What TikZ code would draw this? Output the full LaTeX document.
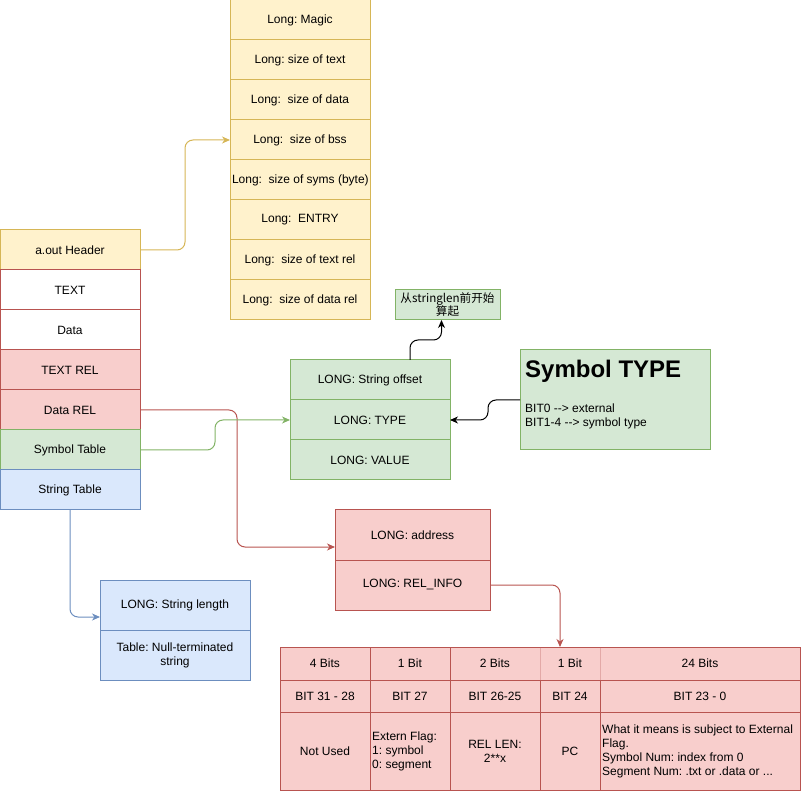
\documentclass[tikz,border=0pt]{standalone}
\usepackage{fontspec}
\setmainfont{Liberation Sans}
\newfontfamily\cjk{Noto Sans CJK SC}
\usetikzlibrary{arrows.meta}
\frenchspacing
\definecolor{yfill}{HTML}{FFF2CC}\definecolor{ydraw}{HTML}{D6B656}
\definecolor{rfill}{HTML}{F8CECC}\definecolor{rdraw}{HTML}{B85450}
\definecolor{gfill}{HTML}{D5E8D4}\definecolor{gdraw}{HTML}{82B366}
\definecolor{bfill}{HTML}{DAE8FC}\definecolor{bdraw}{HTML}{6C8EBF}
\definecolor{rlight}{HTML}{E3A9A7}
\tikzset{
  box/.style={draw, line width=1pt, anchor=north west, inner sep=2pt, outer sep=0pt,
    font=\fontsize{12}{14}\selectfont, align=center},
  ybox/.style={box, fill=yfill, draw=ydraw, minimum width=140pt, minimum height=40pt},
  rbox/.style={box, fill=rfill, draw=rdraw},
  wbox/.style={box, fill=white, draw=rdraw, minimum width=140pt, minimum height=40pt},
  gbox/.style={box, fill=gfill, draw=gdraw},
  bbox/.style={box, fill=bfill, draw=bdraw},
  conn/.style={line width=1pt, rounded corners=8pt, -{Stealth[length=8pt,width=7pt,inset=2.5pt]}},
}
\begin{document}
\begin{tikzpicture}[x=1pt,y=-1pt]
\useasboundingbox (0,0) rectangle (801,791);
% header fields
\node[ybox] (h1) at (230,0) {Long: Magic};
\node[ybox] (h2) at (230,40) {Long: size of text};
\node[ybox] (h3) at (230,80) {Long:\ \ size of data};
\node[ybox] (h4) at (230,120) {Long:\ \ size of bss};
\node[ybox] (h5) at (230,160) {Long:\ \ size of syms (byte)};
\node[ybox] (h6) at (230,200) {Long:\ \ ENTRY};
\node[ybox] (h7) at (230,240) {Long:\ \ size of text rel};
\node[ybox] (h8) at (230,280) {Long:\ \ size of data rel};
% left column
\node[ybox] (hdr) at (0,230) {a.out Header};
\node[wbox] (txt) at (0,270) {TEXT};
\node[wbox] (dat) at (0,310) {Data};
\node[rbox, minimum width=140pt, minimum height=40pt] (trel) at (0,350) {TEXT REL};
\node[rbox, minimum width=140pt, minimum height=40pt] (drel) at (0,390) {Data REL};
\node[gbox, minimum width=140pt, minimum height=40pt] (sym) at (0,430) {Symbol Table};
\node[bbox, minimum width=140pt, minimum height=40pt] (str) at (0,470) {String Table};
% chinese note
\node[gbox, minimum width=105pt, minimum height=30pt, font=\cjk\fontsize{11.6}{13}\selectfont, inner sep=0pt] (cn) at (395,290) {从stringlen前开始\\算起};
% symbol entry
\node[gbox, minimum width=160pt, minimum height=40pt] (s1) at (290,360) {LONG: String offset};
\node[gbox, minimum width=160pt, minimum height=40pt] (s2) at (290,400) {LONG: TYPE};
\node[gbox, minimum width=160pt, minimum height=40pt] (s3) at (290,440) {LONG: VALUE};
% symbol type note
\node[gbox, minimum width=190pt, minimum height=100pt] (st) at (520,350) {};
\node[anchor=north west, inner sep=0pt, font=\bfseries\fontsize{24}{28}\selectfont] (stt) at (525,360) {Symbol TYPE};
\node[anchor=north west, inner sep=0pt, align=left, font=\fontsize{12}{14}\selectfont] (stb) at (525,404) {BIT0 {-}{-}> external\\BIT1-4 {-}{-}> symbol type};
% relocation entry
\node[rbox, minimum width=155pt, minimum height=50pt] (r1) at (335,510) {LONG: address};
\node[rbox, minimum width=155pt, minimum height=50pt] (r2) at (335,560) {LONG: REL\_INFO};
% string entry
\node[bbox, minimum width=150pt, minimum height=50pt] (l1) at (100,580) {LONG: String length};
\node[bbox, minimum width=150pt, minimum height=50pt] (l2) at (100,630) {Table: Null-terminated\\string};
% bit table
\node[rbox, minimum width=90pt, minimum height=33pt] (t11) at (280,647) {4 Bits};
\node[rbox, minimum width=80pt, minimum height=33pt] (t12) at (370,647) {1 Bit};
\node[rbox, minimum width=90pt, minimum height=33pt] (t13) at (450,647) {2 Bits};
\node[rbox, minimum width=60pt, minimum height=33pt] (t14) at (540,647) {1 Bit};
\node[rbox, minimum width=200pt, minimum height=33pt] (t15) at (600,647) {24 Bits};
\node[rbox, minimum width=90pt, minimum height=32pt] (t21) at (280,680) {BIT 31 - 28};
\node[rbox, minimum width=80pt, minimum height=32pt] (t22) at (370,680) {BIT 27};
\node[rbox, minimum width=90pt, minimum height=32pt] (t23) at (450,680) {BIT 26-25};
\node[rbox, minimum width=60pt, minimum height=32pt] (t24) at (540,680) {BIT 24};
\node[rbox, minimum width=200pt, minimum height=32pt] (t25) at (600,680) {BIT 23 - 0};
\node[rbox, minimum width=90pt, minimum height=78pt] (t31) at (280,712) {Not Used};
\node[rbox, minimum width=80pt, minimum height=78pt] (t32) at (370,712) {};
\node[rbox, minimum width=90pt, minimum height=78pt] (t33) at (450,712) {REL LEN:\\2**x};
\node[rbox, minimum width=60pt, minimum height=78pt] (t34) at (540,712) {PC};
\node[rbox, minimum width=200pt, minimum height=78pt] (t35) at (600,712) {};
\node[anchor=west, inner sep=0pt, align=left, font=\fontsize{12}{14}\selectfont] (t32t) at (372,751) {Extern Flag:\\1: symbol\\0: segment};
\node[anchor=west, inner sep=0pt, align=left, font=\fontsize{12}{14}\selectfont] (t35t) at (602,751) {What it means is subject to External\\Flag.\\Symbol Num: index from 0\\Segment Num: .txt or .data or ...};
\draw[rlight, line width=1pt] ([yshift=-0.5pt]t14.north west) -- ([yshift=0.5pt]t14.south west);
\draw[rlight, line width=1pt] ([yshift=-0.5pt]t14.north east) -- ([yshift=0.5pt]t14.south east);
% connectors
\draw[conn, ydraw] (hdr.east) -- ++(45,0) |- (h4.west);
\draw[conn, rdraw] (drel.east) -- ++(97,0) |- ([yshift=-12pt]r1.west);
\draw[conn, gdraw] (sym.east) -- ++(75,0) |- (s2.west);
\draw[conn, bdraw] (str.south) |- ([yshift=-12pt]l1.west);
\draw[conn, rdraw] (r2.east) -| ([xshift=-10pt]t14.north);
\draw[conn, black] ([xshift=40pt]s1.north) -- ++(0,-20) -| ([xshift=-6pt]cn.south);
\draw[conn, black] (st.west) -- ++(-32,0) |- (s2.east);
\end{tikzpicture}
\end{document}
